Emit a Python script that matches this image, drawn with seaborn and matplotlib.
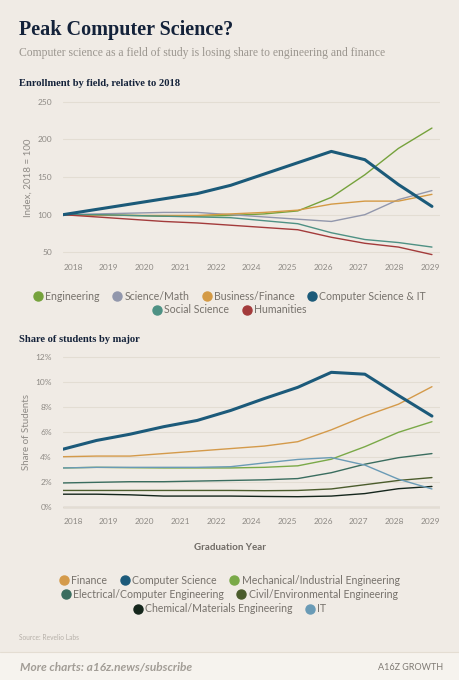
import numpy as np
import pandas as pd
import matplotlib.pyplot as plt
from matplotlib.lines import Line2D
from matplotlib.patches import Rectangle
import seaborn as sns

# --- data -----------------------------------------------------------------
years = list(range(2018, 2030))
tick_labels = ['2018', '2019', '2020', '2021', '2022', '2024',
               '2025', '2026', '2027', '2028', '2029']

# enrollment index, 2018 = 100
engineering = [100, 100, 99, 98, 98, 99, 101, 105, 123, 153, 188, 215]
science_math = [100, 101, 102, 103, 103, 100, 97, 94, 91, 100, 120, 132]
business_finance = [100, 99, 99, 99, 99, 101, 103, 106, 114, 118, 118, 127]
cs_it = [100, 107, 114, 121, 128, 139, 154, 169, 184, 173, 140, 111]
social_science = [100, 100, 99, 98, 97, 96, 92, 88, 76, 67, 63, 57]
humanities = [100, 97, 94, 91, 89, 86, 83, 80, 70, 62, 57, 47]

# share of students by major, %
finance = [4.0, 4.05, 4.05, 4.25, 4.45, 4.65, 4.85, 5.2, 6.15, 7.25, 8.2, 9.6]
computer_science = [4.6, 5.3, 5.8, 6.4, 6.9, 7.7, 8.65, 9.55, 10.75, 10.6, 8.9, 7.25]
mech_industrial = [3.1, 3.15, 3.12, 3.1, 3.1, 3.1, 3.15, 3.27, 3.8, 4.8, 5.95, 6.8]
electrical_computer = [1.9, 1.95, 2.0, 2.0, 2.05, 2.1, 2.15, 2.25, 2.72, 3.4, 3.92, 4.25]
civil_environmental = [1.3, 1.3, 1.3, 1.3, 1.3, 1.3, 1.28, 1.3, 1.42, 1.76, 2.1, 2.33]
chemical_materials = [1.0, 1.0, 0.95, 0.85, 0.85, 0.85, 0.82, 0.8, 0.85, 1.05, 1.44, 1.62]
it = [3.1, 3.15, 3.15, 3.15, 3.15, 3.2, 3.5, 3.78, 3.93, 3.33, 2.2, 1.42]

enroll = {
    'Engineering': engineering,
    'Science/Math': science_math,
    'Business/Finance': business_finance,
    'Computer Science & IT': cs_it,
    'Social Science': social_science,
    'Humanities': humanities,
}
enroll_colors = {
    'Engineering': '#76a23c',
    'Science/Math': '#9297ac',
    'Business/Finance': '#d49a45',
    'Computer Science & IT': '#1b5a79',
    'Social Science': '#4e9184',
    'Humanities': '#a33b3b',
}

share = {
    'Finance': finance,
    'Computer Science': computer_science,
    'Mechanical/Industrial Engineering': mech_industrial,
    'Electrical/Computer Engineering': electrical_computer,
    'Civil/Environmental Engineering': civil_environmental,
    'Chemical/Materials Engineering': chemical_materials,
    'IT': it,
}
share_colors = {
    'Finance': '#d49a4a',
    'Computer Science': '#1c5a7a',
    'Mechanical/Industrial Engineering': '#7aa948',
    'Electrical/Computer Engineering': '#3a6d5f',
    'Civil/Environmental Engineering': '#4b5c2c',
    'Chemical/Materials Engineering': '#15261c',
    'IT': '#6a9bb6',
}

BG = '#f0ebe5'
GRID = '#e3ddd3'
TICK = '#8e8a85'

sns.set_theme(style='white')
plt.rcParams['font.family'] = ['Lato', 'DejaVu Sans']

W, H = 460, 680
fig = plt.figure(figsize=(W / 100, H / 100), dpi=100, facecolor=BG)


def fx(px):
    return px / W


def fy(py):
    return 1 - py / H


def style_axis(ax, ylim):
    ax.set_facecolor(BG)
    ax.set_xlim(2018, 2029.24)
    ax.set_ylim(*ylim)
    ax.set_xticks(np.linspace(2018.3, 2028.95, len(tick_labels)))
    ax.set_xticklabels(tick_labels)
    ax.tick_params(axis='both', length=0, labelsize=6, labelcolor=TICK, pad=6)
    ax.tick_params(axis='y', pad=8)
    ax.yaxis.grid(True, color=GRID, linewidth=0.8)
    ax.xaxis.grid(False)
    ax.set_axisbelow(True)
    sns.despine(ax=ax, left=True, bottom=True)
    ax.set_xlabel('')


def row_legend(names, colors, y):
    handles = [Line2D([], [], marker='o', linestyle='', markersize=6.5,
                      markerfacecolor=colors[n], markeredgecolor=colors[n])
               for n in names]
    leg = fig.legend(handles, names, loc='center', bbox_to_anchor=(0.5, fy(y)),
                     ncol=len(names), frameon=False, fontsize=7.6,
                     handlelength=0.7, handletextpad=0.35, columnspacing=1.3,
                     borderpad=0, labelcolor='#77726c')
    return leg


# --- top chart ------------------------------------------------------------
ax1 = fig.add_axes([fx(63), fy(256.1), fx(377), 155.9 / H])
for name, vals in enroll.items():
    if name == 'Computer Science & IT':
        continue
    sns.lineplot(x=years, y=vals, ax=ax1, color=enroll_colors[name], linewidth=1.0)
sns.lineplot(x=years, y=enroll['Computer Science & IT'], ax=ax1,
             color=enroll_colors['Computer Science & IT'], linewidth=2.2)
style_axis(ax1, (45, 252))
ax1.set_yticks([50, 100, 150, 200, 250])
ax1.set_ylabel('Index, 2018 = 100', fontsize=7, color=TICK, labelpad=3)

names1 = list(enroll)
row_legend(names1[:4], enroll_colors, 296)
row_legend(names1[4:], enroll_colors, 310)

# --- bottom chart ---------------------------------------------------------
ax2 = fig.add_axes([fx(63), fy(509.2), fx(377), 155 / H])
for name, vals in share.items():
    if name == 'Computer Science':
        continue
    sns.lineplot(x=years, y=vals, ax=ax2, color=share_colors[name], linewidth=1.0)
sns.lineplot(x=years, y=share['Computer Science'], ax=ax2,
             color=share_colors['Computer Science'], linewidth=2.2)
style_axis(ax2, (-0.2, 12.2))
ax2.set_yticks([0, 2, 4, 6, 8, 10, 12])
ax2.set_yticklabels([f'{v}%' for v in [0, 2, 4, 6, 8, 10, 12]])
ax2.axhline(0, color='#bdb4aa', linewidth=1.0, zorder=0.5)
ax2.set_ylabel('Share of Students', fontsize=7, color=TICK, labelpad=3)

fig.text(0.5, fy(548), 'Graduation Year', ha='center', va='center',
         fontsize=7, fontweight='bold', color='#6f6a65')

names2 = list(share)
row_legend(names2[:3], share_colors, 580)
row_legend(names2[3:5], share_colors, 594)
row_legend(names2[5:], share_colors, 609)

# --- titles and footer ----------------------------------------------------
serif = ['Liberation Serif', 'DejaVu Serif']
fig.text(fx(19), fy(30), 'Peak Computer Science?', family=serif, fontsize=14.5,
         fontweight='bold', color='#14223a', va='center', ha='left')
fig.text(fx(19), fy(53), 'Computer science as a field of study is losing share '
         'to engineering and finance', family=serif, fontsize=8.4,
         color='#9b968f', va='center', ha='left')
fig.text(fx(19), fy(84), 'Enrollment by field, relative to 2018', family=serif,
         fontsize=7.6, fontweight='bold', color='#14223a', va='center', ha='left')
fig.text(fx(19), fy(339), 'Share of students by major', family=serif,
         fontsize=7.6, fontweight='bold', color='#14223a', va='center', ha='left')

fig.text(fx(19), fy(638), 'Source: Revelio Labs', fontsize=4.8,
         color='#b6b0a9', va='center', ha='left')

fig.add_artist(Rectangle((0, 0), 1, fy(652), transform=fig.transFigure,
                         facecolor='#f6f3ee', edgecolor='none', zorder=0))
fig.add_artist(Line2D([0, 1], [fy(652), fy(652)], transform=fig.transFigure,
                      color='#e4ddd2', linewidth=0.8))
fig.text(fx(20), fy(667), 'More charts: a16z.news/subscribe', fontsize=8.6,
         fontstyle='italic', fontweight='bold', color='#a29d96',
         va='center', ha='left')
fig.text(fx(443), fy(667), 'A16Z GROWTH', fontsize=6.5, color='#7f7a74',
         va='center', ha='right')

fig.savefig('out.png', dpi=100, facecolor=BG)
